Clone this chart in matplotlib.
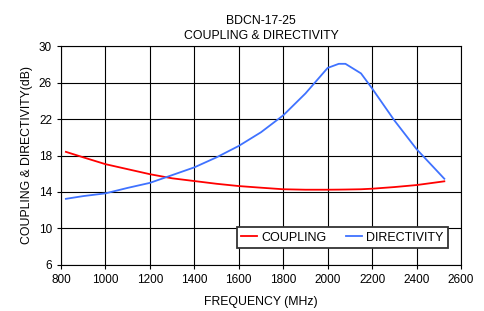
import matplotlib
matplotlib.use('Agg')
import matplotlib.pyplot as plt

plt.rcParams['font.family'] = ['Liberation Sans', 'DejaVu Sans']

freq = [822, 900, 1000, 1100, 1200, 1300, 1400, 1500, 1600, 1700, 1800,
        1900, 2000, 2050, 2080, 2150, 2200, 2300, 2400, 2525]
coupling = [18.4, 17.8, 17.05, 16.5, 15.95, 15.5, 15.2, 14.9, 14.65, 14.47, 14.3,
            14.25, 14.25, 14.26, 14.27, 14.3, 14.36, 14.54, 14.76, 15.17]
directivity = [13.25, 13.55, 13.85, 14.45, 15.0, 15.85, 16.7, 17.8, 19.05, 20.55, 22.4,
               24.8, 27.6, 28.05, 28.05, 27.0, 25.35, 21.85, 18.7, 15.45]

x_ticks = [800, 1000, 1200, 1400, 1600, 1800, 2000, 2200, 2400, 2600]
y_ticks = [6, 10, 14, 18, 22, 26, 30]

fig = plt.figure(figsize=(4.85, 3.11), dpi=100)
ax = fig.add_axes([0.1258, 0.148, 0.8247, 0.704])

ax.plot(freq, coupling, color='#ff0000', lw=1.3, label='COUPLING')
ax.plot(freq, directivity, color='#3f72ff', lw=1.3, label='DIRECTIVITY')

ax.set_xlim(800, 2600)
ax.set_ylim(6, 30)
ax.set_xticks(x_ticks)
ax.set_yticks(y_ticks)
ax.grid(True, color='black', lw=0.8)
ax.tick_params(labelsize=8.5, length=3, width=0.8, direction='out')
for s in ax.spines.values():
    s.set_linewidth(0.8)

ax.set_title('BDCN-17-25\nCOUPLING & DIRECTIVITY', fontsize=8.8, linespacing=1.3, pad=5)
ax.set_xlabel('FREQUENCY (MHz)', fontsize=8.8, labelpad=7)
ax.set_ylabel('COUPLING & DIRECTIVITY(dB)', fontsize=8.8, labelpad=4)

leg = ax.legend(loc='lower right', ncol=2, fontsize=9, fancybox=False, shadow=False,
                framealpha=1, edgecolor='#333333', handlelength=1.3, handletextpad=0.3,
                columnspacing=1.6, borderpad=0.35, borderaxespad=0,
                bbox_to_anchor=(0.9675, 0.078))
leg.get_frame().set_linewidth(1.3)

fig.savefig('out.png', dpi=100)
